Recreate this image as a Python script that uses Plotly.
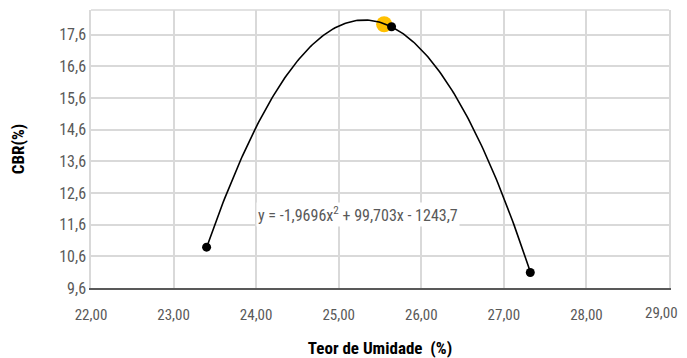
import numpy as np
import plotly.graph_objects as go

# Data
umidade = [23.40, 25.64, 27.32]
cbr = [10.89, 17.85, 10.09]
otimo_x = [25.55]
otimo_y = [17.93]
coef = [-1.9696, 99.703, -1243.7]  # trendline coefficients shown on chart
eq_text = "y = -1,9696x<sup>2</sup> + 99,703x - 1243,7"

x_ticks = [22, 23, 24, 25, 26, 27, 28, 29]
x_labels = ["22,00", "23,00", "24,00", "25,00", "26,00", "27,00", "28,00", "29,00"]
y_ticks = [9.6, 10.6, 11.6, 12.6, 13.6, 14.6, 15.6, 16.6, 17.6]
y_labels = ["9,6", "10,6", "11,6", "12,6", "13,6", "14,6", "15,6", "16,6", "17,6"]

FONT = "Roboto Condensed, sans-serif"

xs = np.linspace(min(umidade), max(umidade), 200)
ys = np.polyval(coef, xs)

fig = go.Figure()
fig.add_trace(go.Scatter(x=otimo_x, y=otimo_y, mode="markers",
                         marker=dict(color="#FFC000", size=16), showlegend=False))
fig.add_trace(go.Scatter(x=xs, y=ys, mode="lines",
                         line=dict(color="black", width=1.6), showlegend=False))
fig.add_trace(go.Scatter(x=umidade, y=cbr, mode="markers",
                         marker=dict(color="black", size=9), showlegend=False))

fig.add_annotation(x=24.0, y=11.91, xref="x", yref="y", text=eq_text, showarrow=False,
                   xanchor="left", yanchor="middle", bgcolor="white", borderpad=1,
                   font=dict(family=FONT, size=16, color="#595959"))

# last x tick label drawn as annotation so it stays inside the visible page edge
shown_labels = x_labels[:-1] + [""]
fig.add_annotation(x=x_ticks[-1], y=0, xref="x", yref="paper", text=x_labels[-1],
                   showarrow=False, xanchor="right", yanchor="top", xshift=11, yshift=-14,
                   font=dict(family=FONT, size=15, color="#595959"))

fig.add_shape(type="line", xref="paper", yref="paper", x0=0, x1=1, y0=1, y1=1,
              line=dict(color="#d9d9d9", width=1.5))

# page body has an 8px margin: size and margins compensate for it
fig.update_layout(
    width=679, height=350,
    margin=dict(l=83, r=18, t=2, b=70),
    plot_bgcolor="white", paper_bgcolor="white",
    font=dict(family=FONT, size=16, color="#595959"),
    xaxis=dict(range=[22, 29], tickvals=x_ticks, ticktext=shown_labels,
               showgrid=True, gridcolor="#d9d9d9", gridwidth=1.5,
               showline=True, linecolor="#595959", linewidth=2,
               ticks="", zeroline=False, ticklabeloverflow="allow",
               ticklabelstandoff=12, automargin=False,
               tickfont=dict(family=FONT, size=15, color="#595959"),
               title=dict(text="<b>Teor de Umidade  (%)</b>", standoff=21,
                          font=dict(family=FONT, size=17, color="black"))),
    yaxis=dict(range=[9.6, 18.38], tickvals=y_ticks, ticktext=y_labels,
               showgrid=True, gridcolor="#d9d9d9", gridwidth=1.5,
               showline=True, linecolor="#d9d9d9", linewidth=1.5, mirror=True,
               ticks="", zeroline=False, automargin=False,
               title=dict(text="<b>CBR(%)</b>", standoff=30,
                          font=dict(family=FONT, size=17, color="black"))),
)

fig.write_html("out.html")
